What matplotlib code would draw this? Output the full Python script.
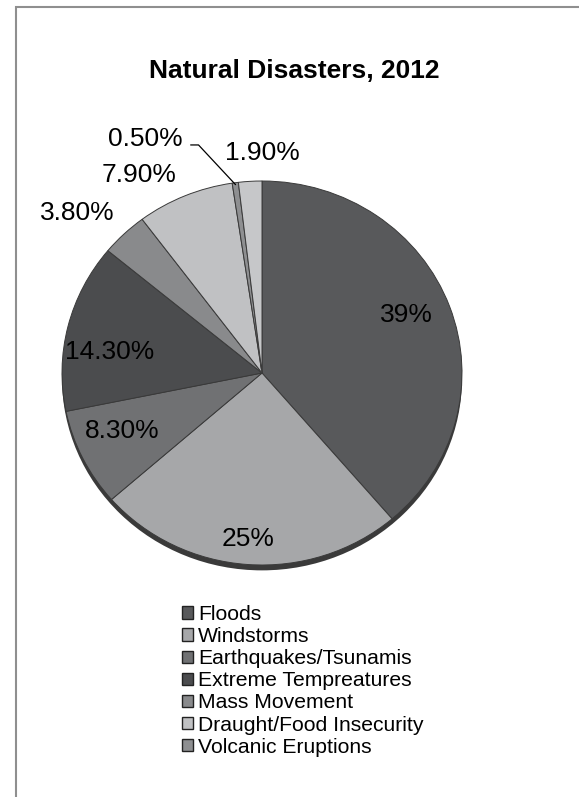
import matplotlib
matplotlib.use("Agg")
import matplotlib.pyplot as plt
from matplotlib.patches import Patch, Ellipse, Rectangle
import numpy as np

plt.rcParams["font.family"] = ["Liberation Sans", "DejaVu Sans"]

# data
categories = ["Floods", "Windstorms", "Earthquakes/Tsunamis", "Extreme Tempreatures",
              "Mass Movement", "Draught/Food Insecurity", "Volcanic Eruptions", ""]
values = [39, 25, 8.3, 14.3, 3.8, 7.9, 0.5, 1.9]
value_labels = ["39%", "25%", "8.30%", "14.30%", "3.80%", "7.90%", "0.50%", "1.90%"]
colors = ["#58595b", "#a6a7a9", "#707173", "#4b4c4e", "#898a8c", "#c0c1c3", "#8e8f91", "#c6c7c9"]

# label spots (pie units, centre = 0,0)
label_pos = [(0.72, 0.30), (-0.07, -0.865), (-0.70, -0.30), (-0.76, 0.11),
             (-0.925, 0.833), (-0.615, 1.031), (-0.585, 1.219), (0.0, 1.146)]

W, H = 579, 797
cx, cy, rx, ry = 262, 373, 200, 192

fig = plt.figure(figsize=(W / 100, H / 100), dpi=100)
ax = fig.add_axes([0, 0, 1, 1])

# grey frame (left and top edges only visible)
fig.add_artist(Rectangle((15.5 / W, -0.1), 1.2, 0.1 + (H - 6.5) / H,
                         transform=fig.transFigure, fill=False,
                         edgecolor="#8f8f8f", linewidth=1.5))

# shadow under the pie
ax.add_patch(Ellipse((0, -0.028), 2, 2, facecolor="#3a3a3a", edgecolor="none", zorder=0))

wedges, _ = ax.pie(values, colors=colors, startangle=90, counterclock=False,
                   wedgeprops=dict(edgecolor="#3a3a3a", linewidth=0.7))

ax.set_aspect("auto")
ax.set_xlim(-cx / rx, (W - cx) / rx)
ax.set_ylim(-(H - cy) / ry, cy / ry)
ax.axis("off")

for i, (txt, (x, y)) in enumerate(zip(value_labels, label_pos)):
    if txt == "0.50%":
        w = wedges[i]
        ang = np.deg2rad((w.theta1 + w.theta2) / 2)
        ax.annotate(txt, xy=(0.99 * np.cos(ang), 0.99 * np.sin(ang)), xytext=(x, y),
                    ha="center", va="center", fontsize=19,
                    arrowprops=dict(arrowstyle="-", color="black", lw=0.9,
                                    connectionstyle="angle,angleA=0,angleB=133,rad=0",
                                    relpos=(1.0, 0.25), shrinkA=4, shrinkB=0))
    else:
        ax.text(x, y, txt, ha="center", va="center", fontsize=19)

fig.text(294 / W, 1 - 71 / H, "Natural Disasters, 2012", ha="center", va="center",
         fontsize=19, fontweight="bold")

handles = [Patch(facecolor=c, edgecolor="#222222", linewidth=1.0) for c in colors[:7]]
fig.legend(handles, categories[:7], loc="upper left", bbox_to_anchor=(182 / W, 1 - 605 / H),
           frameon=False, fontsize=15.2, handlelength=0.52, handleheight=0.52,
           handletextpad=0.24, labelspacing=0.147, borderpad=0, borderaxespad=0)

fig.savefig("out.png", dpi=100)
